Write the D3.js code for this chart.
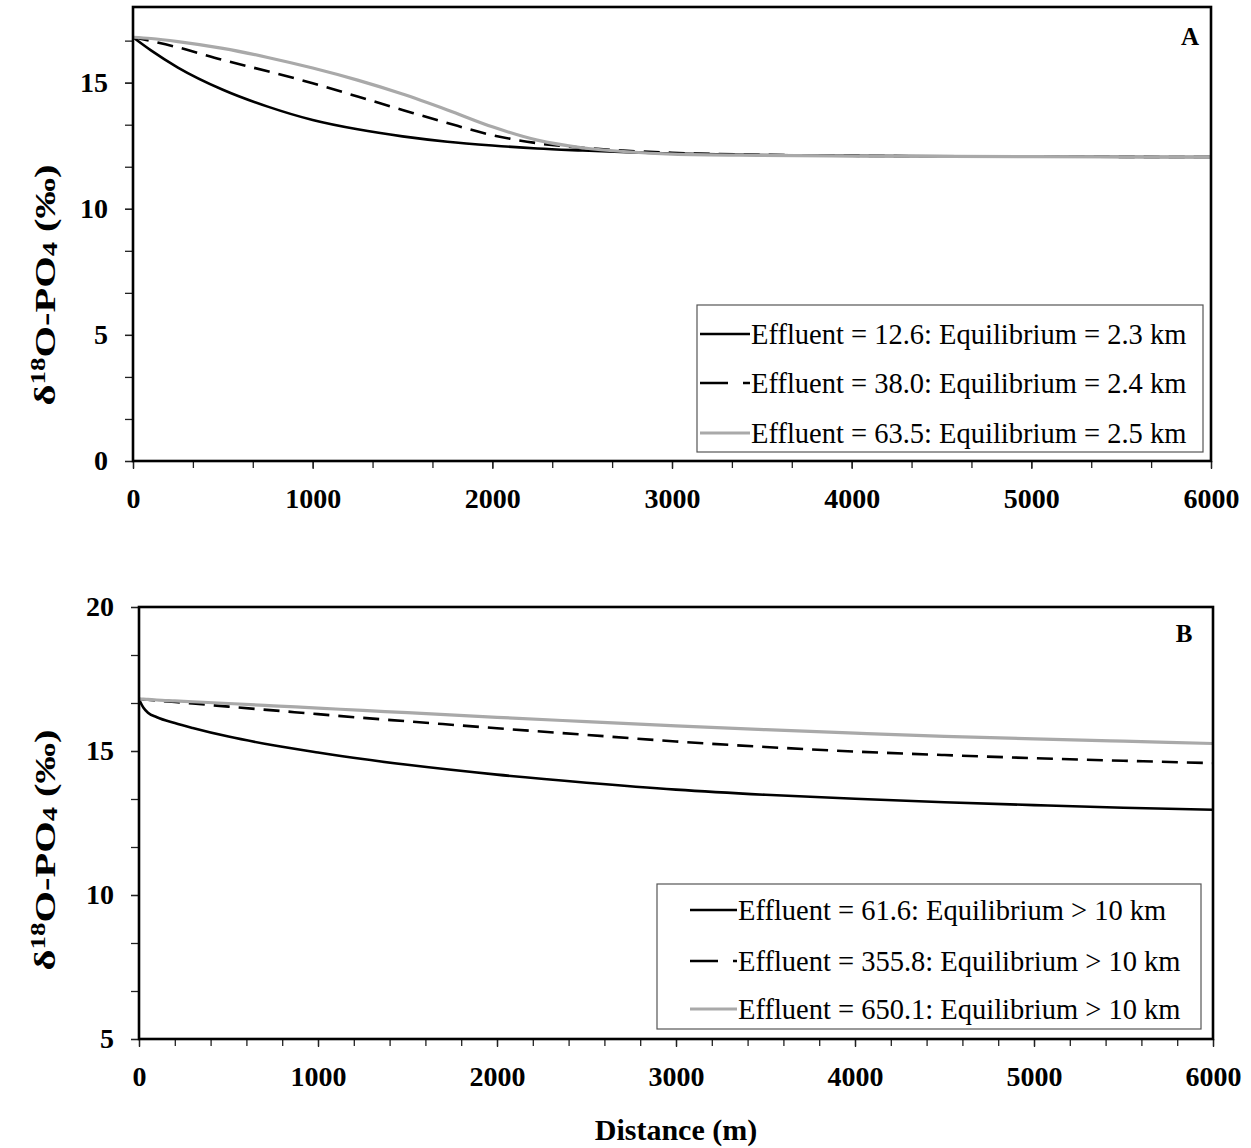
<!DOCTYPE html>
<html>
<head>
<meta charset="utf-8">
<script src="https://cdn.jsdelivr.net/npm/d3@7"></script>
<style>
  html, body { margin: 0; padding: 0; background: #fff; }
  svg { display: block; }
  text { font-family: "Liberation Serif", "Times New Roman", serif; fill: #000; }
</style>
</head>
<body>
<svg id="chart" width="1251" height="1148"></svg>
<script>
// ---- Panel A: downstream δ18O-PO4, short distances to equilibrium ----
const distA = [0, 100, 250, 500, 750, 1000, 1250, 1500, 1750, 2000, 2250, 2500, 2750, 3000, 3500, 4000, 5000, 6000];
const effA126 = [16.8, 16.28, 15.6, 14.72, 14.05, 13.52, 13.15, 12.87, 12.66, 12.51, 12.39, 12.31, 12.24, 12.19, 12.13, 12.1, 12.07, 12.05];
const effA380 = [16.8, 16.65, 16.4, 15.9, 15.45, 14.98, 14.45, 13.92, 13.4, 12.92, 12.6, 12.42, 12.3, 12.22, 12.14, 12.1, 12.07, 12.05];
const effA635 = [16.8, 16.75, 16.63, 16.36, 16.0, 15.58, 15.1, 14.55, 13.92, 13.25, 12.72, 12.42, 12.26, 12.17, 12.12, 12.09, 12.07, 12.05];
const labelsA = [
  "Effluent = 12.6: Equilibrium = 2.3 km",
  "Effluent = 38.0: Equilibrium = 2.4 km",
  "Effluent = 63.5: Equilibrium = 2.5 km"
];

// ---- Panel B: equilibrium not reached within 10 km ----
const distB = [0, 25, 50, 100, 200, 300, 500, 750, 1000, 1250, 1500, 2000, 2500, 3000, 3500, 4000, 4500, 5000, 5500, 6000];
const effB616 = [16.8, 16.5, 16.33, 16.17, 15.97, 15.8, 15.5, 15.2, 14.95, 14.72, 14.52, 14.18, 13.9, 13.66, 13.48, 13.34, 13.22, 13.12, 13.03, 12.96];
const effB3558 = [16.8, 16.79, 16.78, 16.75, 16.7, 16.65, 16.54, 16.41, 16.28, 16.15, 16.03, 15.79, 15.56, 15.33, 15.14, 14.98, 14.86, 14.75, 14.66, 14.58];
const effB6501 = [16.8, 16.8, 16.79, 16.77, 16.74, 16.71, 16.65, 16.57, 16.49, 16.41, 16.33, 16.17, 16.02, 15.87, 15.74, 15.62, 15.51, 15.42, 15.34, 15.26];
const labelsB = [
  "Effluent = 61.6: Equilibrium > 10 km",
  "Effluent = 355.8: Equilibrium > 10 km",
  "Effluent = 650.1: Equilibrium > 10 km"
];

const xTicks = [0, 1000, 2000, 3000, 4000, 5000, 6000];
const yTicksA = [0, 5, 10, 15];
const yTicksB = [5, 10, 15, 20];

const svg = d3.select("#chart");
const FONT_TICK = 28;

// line styles per series (solid black, dashed black, light grey)
const styles = [
  { stroke: "#000", width: 2.6, dash: null, legendDash: null },
  { stroke: "#000", width: 2.6, dash: "16,9", legendDash: "28,15,7" },
  { stroke: "#a9a9a9", width: 3.2, dash: null, legendDash: null }
];

function styleAxisText(s) {
  s.selectAll("text")
    .attr("font-size", FONT_TICK).attr("font-weight", "bold")
    .attr("font-family", "Liberation Serif, Times New Roman, serif").attr("fill", "#000");
}

function panel(cfg) {
  const x = d3.scaleLinear().domain([0, 6000]).range([cfg.left, cfg.right]);
  const y = d3.scaleLinear().domain(cfg.yDomain).range([cfg.bottom, cfg.top]);
  const g = svg.append("g");

  // minor ticks
  const xAxisMinor = d3.axisBottom(x).tickValues(d3.range(0, 6000 + 1e-6, cfg.xMinor)).tickSize(7).tickFormat("");
  g.append("g").attr("transform", `translate(0,${cfg.bottom})`).call(xAxisMinor)
    .call(s => s.select(".domain").remove())
    .call(s => s.selectAll("line").attr("stroke", "#222").attr("stroke-width", 1.3));
  const yMinorVals = d3.range(0, 40).map(i => cfg.yDomain[0] + i * 5 / 3).filter(v => v <= cfg.yDomain[1] + 1e-6);
  const yAxisMinor = d3.axisLeft(y).tickValues(yMinorVals).tickSize(8).tickFormat("");
  g.append("g").attr("transform", `translate(${cfg.left},0)`).call(yAxisMinor)
    .call(s => s.select(".domain").remove())
    .call(s => s.selectAll("line").attr("stroke", "#222").attr("stroke-width", 1.3));

  // major ticks with labels
  const xAxis = d3.axisBottom(x).tickValues(xTicks).tickSize(8).tickPadding(19).tickFormat(d3.format("d"));
  g.append("g").attr("transform", `translate(0,${cfg.bottom})`).call(xAxis)
    .call(s => s.select(".domain").remove())
    .call(s => s.selectAll("line").attr("stroke", "#222").attr("stroke-width", 1.3))
    .call(styleAxisText);
  const yAxis = d3.axisLeft(y).tickValues(cfg.yTicks).tickSize(8).tickPadding(17).tickFormat(d3.format("d"));
  g.append("g").attr("transform", `translate(${cfg.left},0)`).call(yAxis)
    .call(s => s.select(".domain").remove())
    .call(s => s.selectAll("line").attr("stroke", "#222").attr("stroke-width", 1.3))
    .call(styleAxisText);

  // series
  const line = d3.line().x(d => x(d[0])).y(d => y(d[1])).curve(d3.curveMonotoneX);
  cfg.series.forEach((vals, i) => {
    const st = styles[i];
    const pts = cfg.dist.map((d, k) => [d, vals[k]]);
    g.append("path").datum(pts)
      .attr("d", line)
      .attr("fill", "none")
      .attr("stroke", st.stroke)
      .attr("stroke-width", st.width)
      .attr("stroke-dasharray", st.dash);
  });

  // plot frame
  g.append("rect")
    .attr("x", cfg.left).attr("y", cfg.top)
    .attr("width", cfg.right - cfg.left).attr("height", cfg.bottom - cfg.top)
    .attr("fill", "none").attr("stroke", "#000").attr("stroke-width", 2.6);

  // legend
  const lg = cfg.legend;
  g.append("rect")
    .attr("x", lg.x).attr("y", lg.y).attr("width", lg.w).attr("height", lg.h)
    .attr("fill", "#fff").attr("stroke", "#555").attr("stroke-width", 1.2);
  cfg.labels.forEach((lab, i) => {
    const st = styles[i];
    const ly = lg.rows[i];
    g.append("line")
      .attr("x1", lg.lineX0).attr("x2", lg.lineX1).attr("y1", ly).attr("y2", ly)
      .attr("stroke", st.stroke).attr("stroke-width", st.width)
      .attr("stroke-dasharray", st.legendDash);
    g.append("text")
      .attr("x", lg.lineX1 + 1).attr("y", ly + 10)
      .attr("font-size", 28.5)
      .text(lab);
  });

  // panel letter
  g.append("text")
    .attr("x", cfg.letterX).attr("y", cfg.letterY)
    .attr("text-anchor", "middle")
    .attr("font-size", 25).attr("font-weight", "bold")
    .text(cfg.letter);

  // y-axis title: δ18O-PO4 (‰)
  const t = g.append("text")
    .attr("transform", `translate(${cfg.titleX},${cfg.titleY}) rotate(-90) scale(1.35,1)`)
    .attr("text-anchor", "middle")
    .attr("font-size", 30).attr("font-weight", "bold");
  t.append("tspan").text("δ");
  t.append("tspan").attr("dy", -10).attr("font-size", 20).text("18");
  t.append("tspan").attr("dy", 10).text("O-PO");
  t.append("tspan").attr("dy", 2).attr("font-size", 21).text("4");
  t.append("tspan").attr("dy", -2).text(" (‰)");
}

panel({
  left: 133, right: 1211, top: 7, bottom: 461,
  yDomain: [0, 18], yTicks: yTicksA, xMinor: 1000 / 3,
  dist: distA, series: [effA126, effA380, effA635], labels: labelsA,
  legend: { x: 697, y: 305, w: 506, h: 147, rows: [334, 383, 433], lineX0: 700, lineX1: 750 },
  letter: "A", letterX: 1190, letterY: 45, titleX: 55, titleY: 285
});

panel({
  left: 139, right: 1213, top: 607, bottom: 1039,
  yDomain: [5, 20], yTicks: yTicksB, xMinor: 200,
  dist: distB, series: [effB616, effB3558, effB6501], labels: labelsB,
  legend: { x: 657, y: 884, w: 544, h: 145, rows: [910, 961, 1009], lineX0: 690, lineX1: 737 },
  letter: "B", letterX: 1184, letterY: 642, titleX: 55, titleY: 850
});

// shared x-axis title
svg.append("text")
  .attr("x", 676).attr("y", 1140)
  .attr("text-anchor", "middle")
  .attr("font-size", 30).attr("font-weight", "bold")
  .text("Distance (m)");
</script>
</body>
</html>
